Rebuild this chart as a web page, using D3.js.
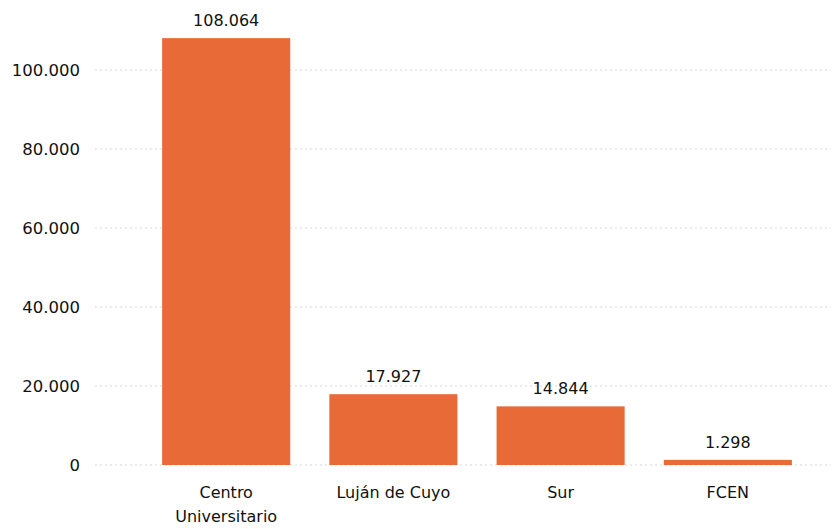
<!DOCTYPE html>
<html>
<head>
<meta charset="utf-8">
<script src="https://cdn.jsdelivr.net/npm/d3@7"></script>
<style>
  body { margin: 0; background: white; }
  text { font-family: "DejaVu Sans", sans-serif; fill: #111; }
</style>
</head>
<body>
<svg width="833" height="529"></svg>
<script>
var categories = ["Centro Universitario", "Luján de Cuyo", "Sur", "FCEN"];
var values = [108064, 17927, 14844, 1298];
var yTicks = [0, 20000, 40000, 60000, 80000, 100000];

var svg = d3.select("svg");
var fmt = d3.formatLocale({ decimal: ",", thousands: ".", grouping: [3] }).format(",d");

var xS = d3.scaleBand()
    .domain(categories)
    .range([123, 831])
    .padding(0.234);

var yS = d3.scaleLinear()
    .domain([0, 100000])
    .range([465, 70]);

// grid
svg.append("g")
    .selectAll("line")
    .data(yTicks)
    .enter()
    .append("line")
    .attr("x1", 95)
    .attr("x2", 831)
    .attr("y1", d => yS(d))
    .attr("y2", d => yS(d))
    .attr("stroke", "#d8d8d8")
    .attr("stroke-width", 1)
    .attr("stroke-dasharray", "2,3");

// y labels
var yAxis = svg.append("g")
    .attr("transform", "translate(80,0)")
    .call(d3.axisLeft(yS).tickValues(yTicks).tickFormat(fmt).tickSize(0).tickPadding(0));
yAxis.select(".domain").remove();
yAxis.selectAll("text")
    .style("font-size", "16.5px")
    .attr("dy", "0.35em");

// bars
svg.selectAll("rect")
    .data(values)
    .enter()
    .append("rect")
    .attr("x", (d, i) => xS(categories[i]))
    .attr("y", d => yS(d))
    .attr("width", xS.bandwidth())
    .attr("height", d => yS(0) - yS(d))
    .attr("fill", "#e86a36");

// value labels
svg.append("g")
    .selectAll("text")
    .data(values)
    .enter()
    .append("text")
    .attr("x", (d, i) => xS(categories[i]) + xS.bandwidth() / 2)
    .attr("y", d => yS(d) - 12)
    .attr("text-anchor", "middle")
    .style("font-size", "16px")
    .text(d => fmt(d));

// x labels
var xAxis = svg.append("g")
    .attr("transform", "translate(0,487)")
    .call(d3.axisBottom(xS).tickSize(0).tickPadding(0));
xAxis.select(".domain").remove();
xAxis.selectAll(".tick text")
    .style("font-size", "16px")
    .attr("dy", "0.71em")
    .each(function(d) {
        var t = d3.select(this);
        if (d === "Centro Universitario") {
            t.text(null);
            t.append("tspan").attr("x", 0).attr("dy", "0.71em").text("Centro");
            t.append("tspan").attr("x", 0).attr("dy", "1.5em").text("Universitario");
        }
    });
</script>
</body>
</html>
